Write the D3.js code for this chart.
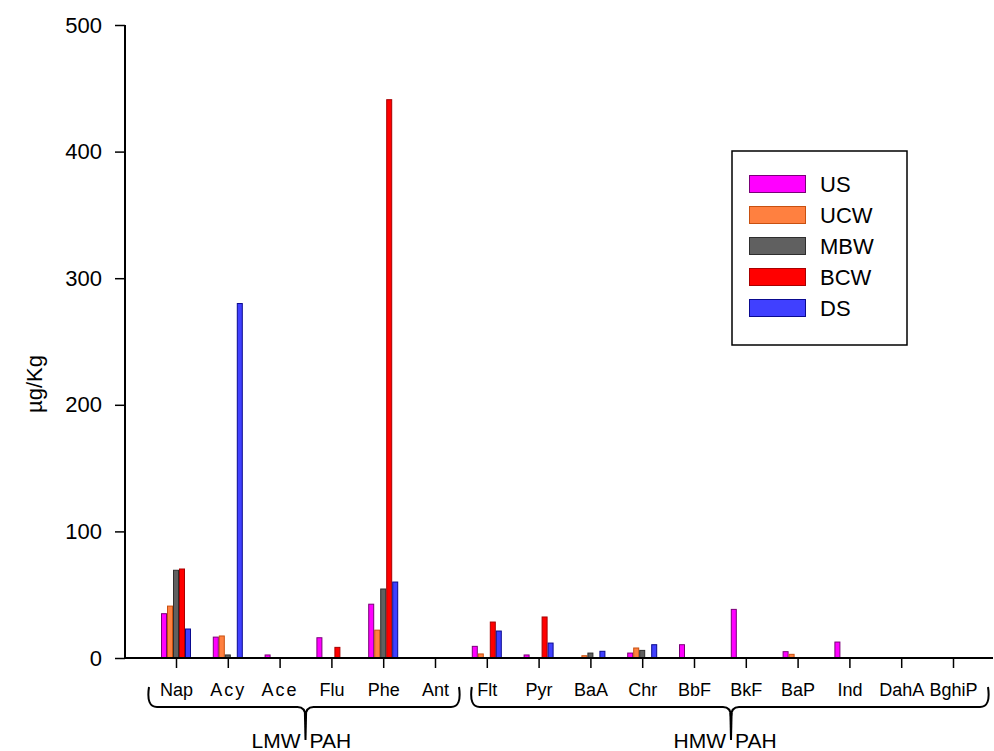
<!DOCTYPE html>
<html>
<head>
<meta charset="utf-8">
<script src="https://cdn.jsdelivr.net/npm/d3@7"></script>
<style>
  body { margin: 0; background: #fff; }
  svg { display: block; font-family: Arial, "Liberation Sans", sans-serif; }
</style>
</head>
<body>
<svg id="chart" width="994" height="751"></svg>
<script>
const categories = ["Nap","Acy","Ace","Flu","Phe","Ant","Flt","Pyr","BaA","Chr","BbF","BkF","BaP","Ind","DahA","BghiP"];
const seriesNames = ["US","UCW","MBW","BCW","DS"];
const US  = [35, 16.5, 2.4, 16, 42.5, 0, 9.2, 2.4, 0, 3.9, 10.5, 38.4, 5, 12.6, 0, 0];
const UCW = [41, 17.4, 0, 0, 22, 0, 3.2, 0, 1.8, 7.9, 0, 0, 2.9, 0, 0, 0];
const MBW = [69.3, 2.4, 0, 0, 54.5, 0, 0, 0, 3.9, 6, 0, 0, 0, 0, 0, 0];
const BCW = [70.3, 0, 0, 8.4, 441, 0, 28.4, 32.4, 0, 0, 0, 0, 0, 0, 0, 0];
const DS  = [22.9, 280, 0, 0, 60, 0, 21.3, 11.8, 5.3, 10.5, 0, 0, 0, 0, 0, 0];
const seriesValues = [US, UCW, MBW, BCW, DS];
const yTicks = [0, 100, 200, 300, 400, 500];
const groups = [
  {label: ["LMW", "PAH"], from: "Nap", to: "Ant"},
  {label: ["HMW", "PAH"], from: "Flt", to: "BghiP"}
];
const fills   = ["#FF00FF", "#FF8040", "#606060", "#FF0000", "#4040FF"];
const strokes = ["#7A0078", "#C85010", "#2E2E2E", "#A80000", "#0A0A90"];

const svg = d3.select("#chart");
const x0 = 125, x1 = 993, yTop = 25, yBot = 658;

const x = d3.scalePoint().domain(categories).range([176, 953]);
const xs = d3.scaleBand().domain(seriesNames).range([-15, 15]);
const y = d3.scaleLinear().domain([0, 500]).range([yBot, yTop]);

// bars
seriesNames.forEach((s, si) => {
  const data = categories.map((c, i) => ({c, v: seriesValues[si][i]})).filter(d => d.v > 0);
  svg.append("g").selectAll("rect").data(data).join("rect")
    .attr("x", d => x(d.c) + xs(s) + 0.5)
    .attr("y", d => y(d.v))
    .attr("width", xs.bandwidth() - 1)
    .attr("height", d => y(0) - y(d.v))
    .attr("fill", fills[si])
    .attr("stroke", strokes[si])
    .attr("stroke-width", 1);
});

// y axis
const yAxis = svg.append("g").attr("transform", `translate(${x0},0)`)
  .call(d3.axisLeft(y).tickValues(yTicks).tickSize(10).tickPadding(13));
yAxis.select(".domain").attr("d", `M0,${yTop}V${yBot}`).attr("stroke", "#000").attr("stroke-width", 2);
yAxis.selectAll(".tick line").attr("stroke", "#000").attr("stroke-width", 1.5);
yAxis.selectAll(".tick text").attr("font-size", 22).attr("fill", "#000")
  .attr("font-family", "Arial, 'Liberation Sans', sans-serif");

// x axis
const xAxis = svg.append("g").attr("transform", `translate(0,${yBot})`)
  .call(d3.axisBottom(x).tickSize(10).tickPadding(15));
xAxis.select(".domain").attr("d", `M${x0},0H${x1}`).attr("stroke", "#000").attr("stroke-width", 2);
xAxis.selectAll(".tick line").attr("stroke", "#000").attr("stroke-width", 1.5);
xAxis.selectAll(".tick text").attr("font-size", 18).attr("fill", "#000")
  .attr("font-family", "Arial, 'Liberation Sans', sans-serif")
  .attr("letter-spacing", d => (d === "Acy" || d === "Ace") ? 2 : 0);

// y label
svg.append("text")
  .attr("transform", `translate(42,384) rotate(-90)`)
  .attr("text-anchor", "middle")
  .attr("font-size", 22)
  .text("µg/Kg");

// braces
const braceSpecs = [
  {g: groups[0], left: x("Nap") - 27, right: x("Ant") + 24, mid: (x("Nap") + x("Ant")) / 2},
  {g: groups[1], left: x("Flt") - 15, right: x("BghiP") + 35, mid: 731}
];
braceSpecs.forEach(b => {
  const yt = 687, yl = 707, yd = 740;
  const p = d3.path();
  p.moveTo(b.left, yt);
  p.quadraticCurveTo(b.left - 3, yl, b.left + 8, yl);
  p.lineTo(b.mid - 8, yl);
  p.quadraticCurveTo(b.mid, yl, b.mid, yl + 10);
  p.quadraticCurveTo(b.mid, yl, b.mid + 8, yl);
  p.lineTo(b.right - 8, yl);
  p.quadraticCurveTo(b.right + 3, yl, b.right, yt);
  svg.append("path").attr("d", p.toString())
    .attr("fill", "none").attr("stroke", "#000").attr("stroke-width", 2);
  svg.append("path")
    .attr("d", `M${b.mid - 1.6},${yl + 6}L${b.mid + 1.6},${yl + 6}L${b.mid + 1},${yd}L${b.mid - 1},${yd}Z`)
    .attr("fill", "#000");
  const t = svg.append("text").attr("y", 748).attr("font-size", 21);
  t.append("tspan").attr("x", b.mid - 5).attr("text-anchor", "end").text(b.g.label[0]);
  t.append("tspan").attr("x", b.mid + 4).attr("text-anchor", "start").text(b.g.label[1]);
});

// legend
const lg = svg.append("g");
lg.append("rect").attr("x", 732).attr("y", 151).attr("width", 175).attr("height", 194)
  .attr("fill", "#fff").attr("stroke", "#000").attr("stroke-width", 1.5);
seriesNames.forEach((s, i) => {
  const cy = 184 + i * 31;
  lg.append("rect").attr("x", 749.5).attr("y", cy - 8.5).attr("width", 56).attr("height", 17)
    .attr("fill", fills[i]).attr("stroke", strokes[i]).attr("stroke-width", 1);
  lg.append("text").attr("x", 820).attr("y", cy + 8)
    .attr("font-size", 22).text(s);
});
</script>
</body>
</html>
